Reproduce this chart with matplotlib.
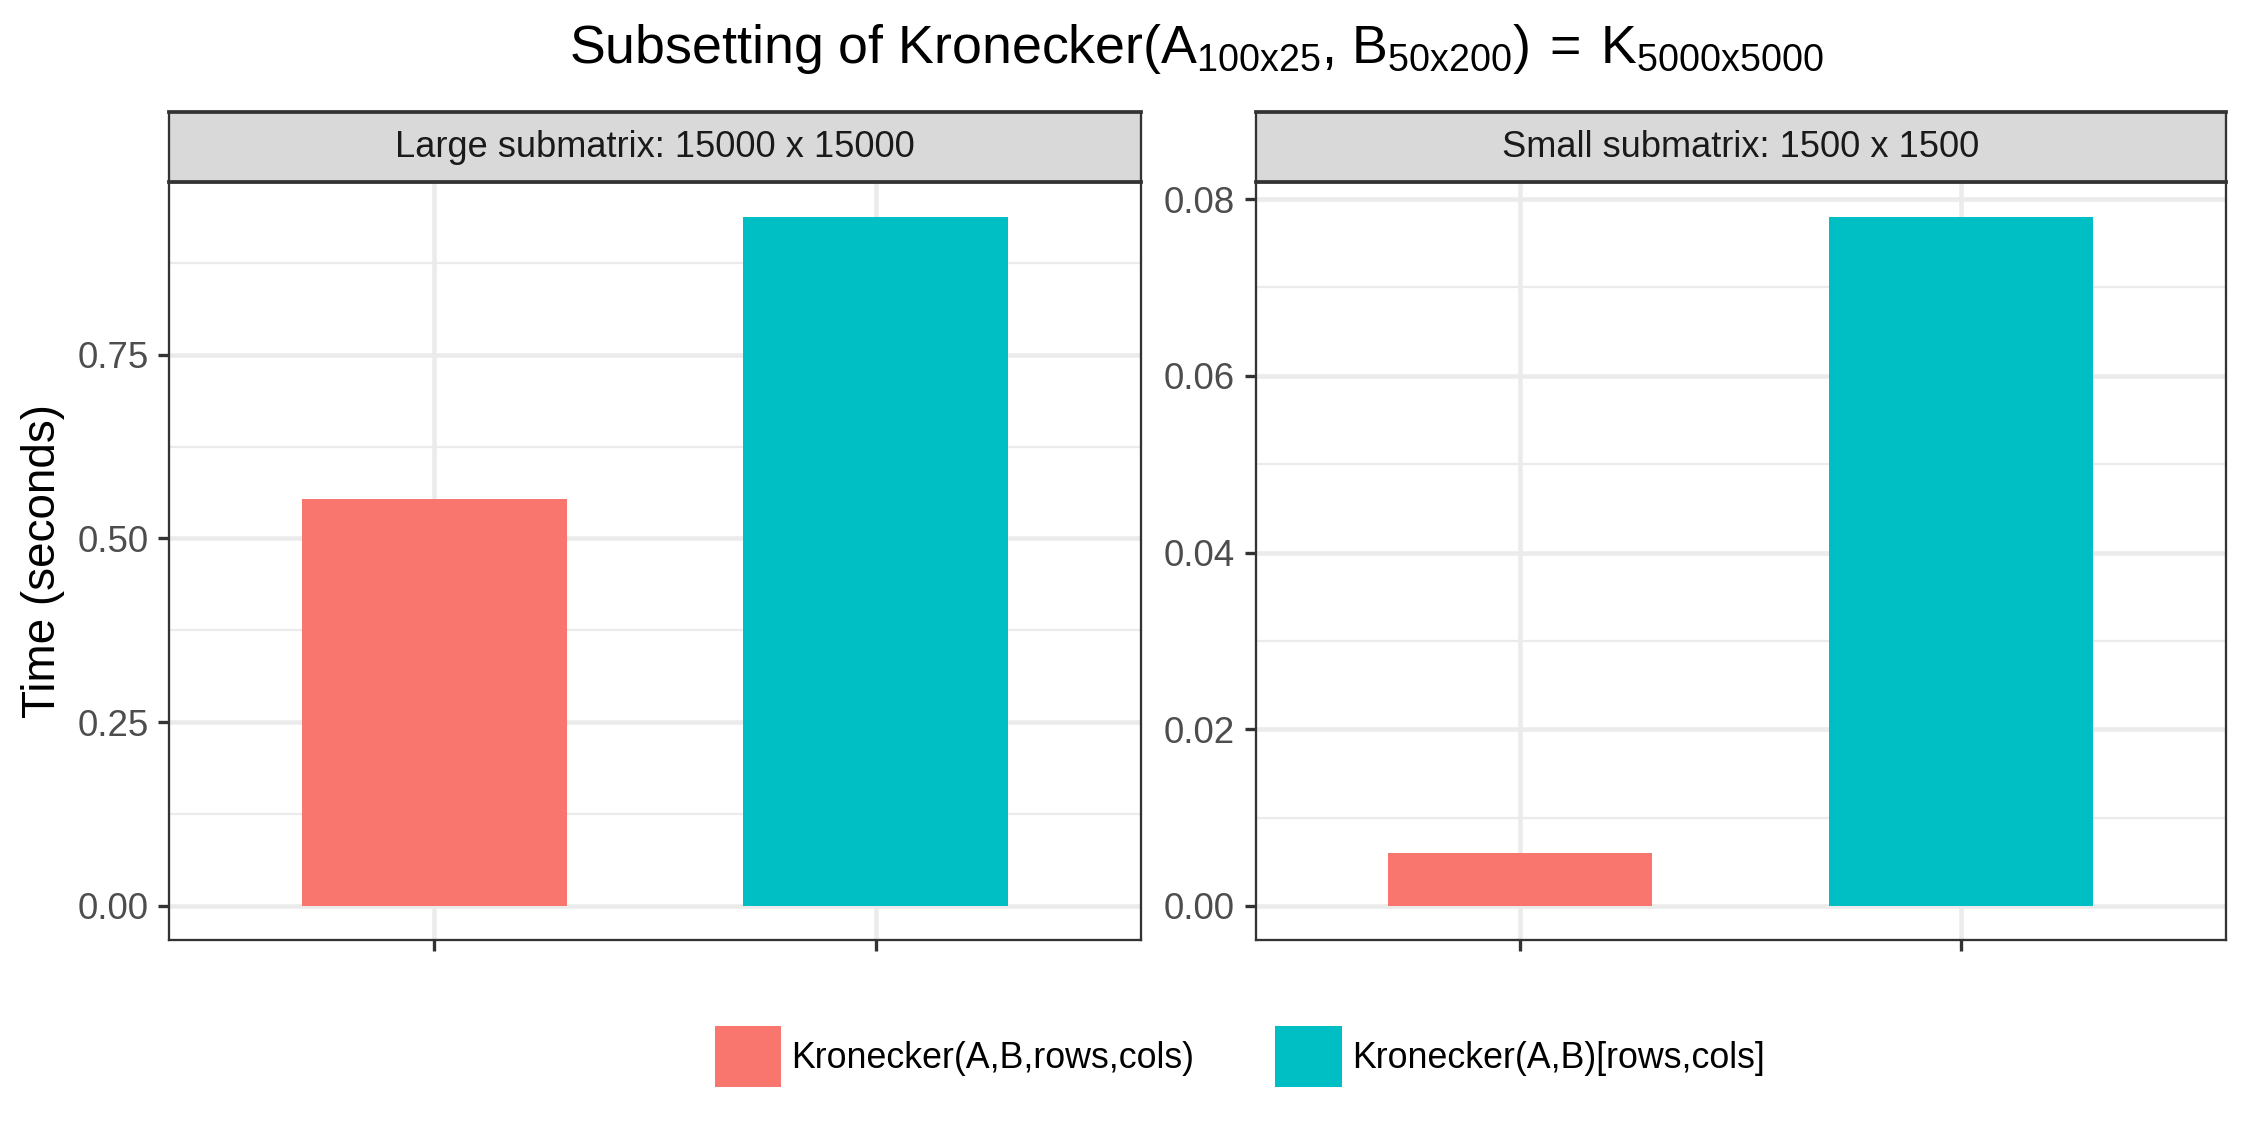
import matplotlib
matplotlib.use("Agg")
import matplotlib.pyplot as plt
from matplotlib.patches import Patch
from matplotlib.ticker import MultipleLocator, FixedLocator
import numpy as np

plt.rcParams['font.family'] = ['Liberation Sans', 'DejaVu Sans']
plt.rcParams['mathtext.fontset'] = 'custom'
plt.rcParams['mathtext.rm'] = 'Liberation Sans'

# ---- data ----
methods = ["Kronecker(A,B,rows,cols)", "Kronecker(A,B)[rows,cols]"]
colors = ["#F8766D", "#00BFC4"]
panels = ["Large submatrix: 15000 x 15000", "Small submatrix: 1500 x 1500"]
large_times = [0.554, 0.9375]
small_times = [0.0060, 0.0780]
panel_values = [large_times, small_times]
major_ticks = [[0.0, 0.25, 0.50, 0.75], [0.00, 0.02, 0.04, 0.06, 0.08]]
tick_fmt = ["{:.2f}", "{:.2f}"]

title = (r"Subsetting of Kronecker($\mathregular{A_{100x25}}$, "
         r"$\mathregular{B_{50x200}}$)$\mathregular{\,=\,}$$\mathregular{K_{5000x5000}}$")

fig = plt.figure(figsize=(7.5, 3.8), dpi=300)
W, H = 1568.0, 794.0
panel_x = [(118, 795), (875, 1551)]
ptop, pbot, stop = 127, 655, 78

grid_c = "#EBEBEB"
dark = "#333333"

for i in range(2):
    x0, x1 = panel_x[i]
    ax = fig.add_axes([x0 / W, 1 - pbot / H, (x1 - x0) / W, (pbot - ptop) / H])
    vals = panel_values[i]
    xpos = np.arange(1, len(vals) + 1)
    ax.bar(xpos, vals, width=0.6, color=colors, zorder=3)
    vmax = max(vals)
    ax.set_xlim(0.4, len(vals) + 0.6)
    ax.set_ylim(-0.05 * vmax, 1.05 * vmax)
    mt = major_ticks[i]
    step = mt[1] - mt[0]
    ax.yaxis.set_major_locator(FixedLocator(mt))
    ax.yaxis.set_minor_locator(MultipleLocator(step / 2))
    ax.set_yticklabels([tick_fmt[i].format(t) for t in mt])
    ax.set_xticks(xpos)
    ax.set_xticklabels([])
    ax.grid(True, which='major', color=grid_c, linewidth=1.1, zorder=0)
    ax.grid(True, which='minor', axis='y', color=grid_c, linewidth=0.55, zorder=0)
    ax.set_axisbelow(True)
    ax.tick_params(axis='both', which='major', length=2.75, width=0.8, color=dark,
                   labelsize=8.8, labelcolor="#4D4D4D", pad=2.2)
    ax.tick_params(axis='y', which='minor', length=0)
    for s in ax.spines.values():
        s.set_color(dark)
        s.set_linewidth(0.55)
    # strip
    sax = fig.add_axes([x0 / W, 1 - ptop / H, (x1 - x0) / W, (ptop - stop) / H])
    sax.set_facecolor("#D9D9D9")
    sax.set_xticks([]); sax.set_yticks([])
    for s in sax.spines.values():
        s.set_color(dark)
        s.set_linewidth(0.55)
    sax.spines['top'].set_linewidth(0.9)
    sax.spines['bottom'].set_linewidth(0.9)
    sax.text(0.5, 0.5, panels[i], ha='center', va='center', fontsize=8.7,
             color="#1A1A1A", transform=sax.transAxes)

fig.text(30 / W, 1 - ((ptop + pbot) / 2) / H, "Time (seconds)", rotation=90,
         ha='center', va='center', fontsize=11)
fig.text(834 / W, 1 - 34 / H, title, ha='center', va='center', fontsize=12.9)

handles = [Patch(facecolor=c, edgecolor='none') for c in colors]
fig.legend(handles, methods, loc='center', bbox_to_anchor=(864 / W, 1 - 736 / H),
           ncol=2, frameon=False, fontsize=8.6, handlelength=1.85, handleheight=2.25,
           handletextpad=0.3, columnspacing=2.25)

fig.savefig("out.png", dpi=300)
